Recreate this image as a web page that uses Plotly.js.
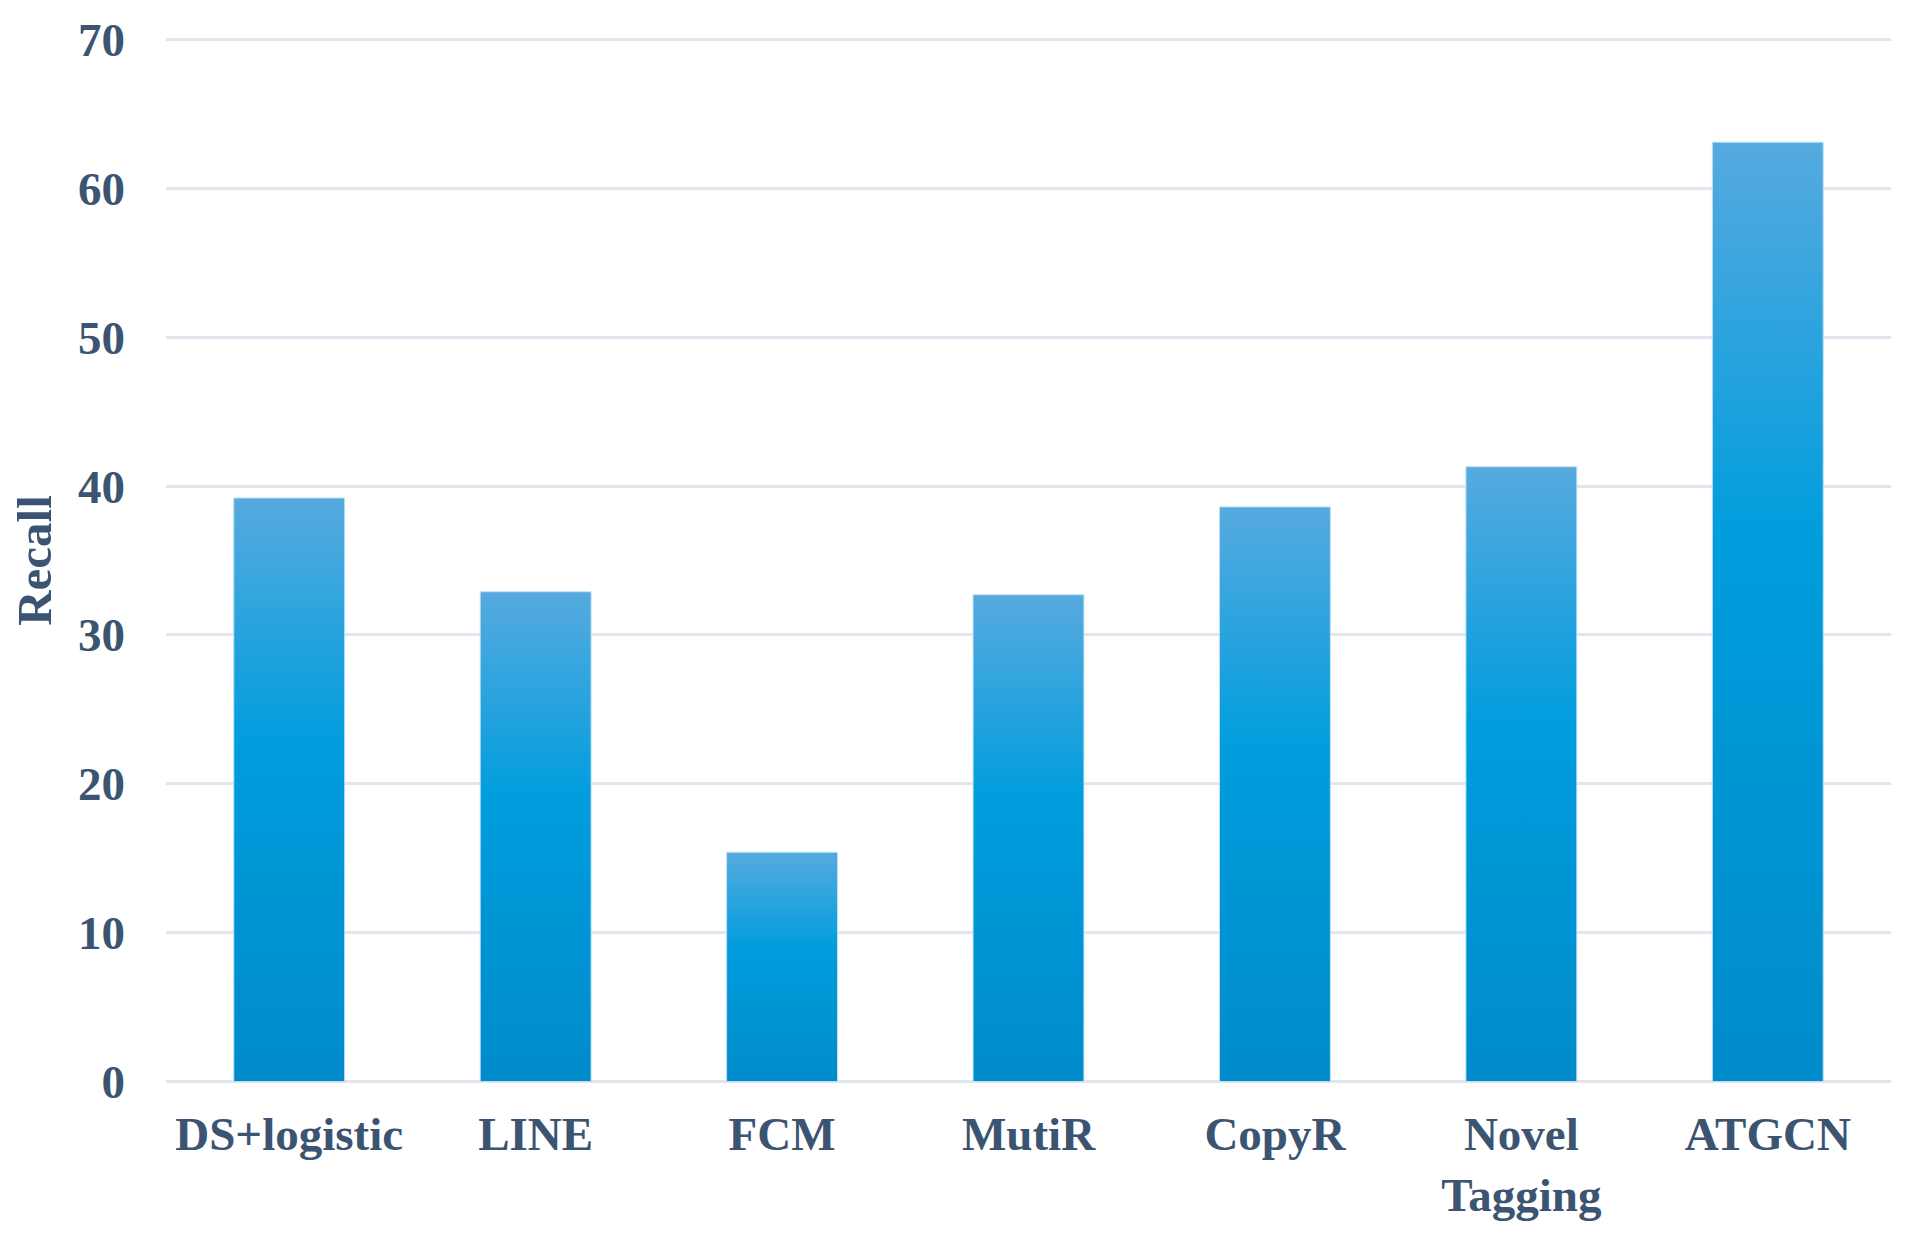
<!DOCTYPE html>
<html>
<head>
<meta charset="utf-8">
<script src="https://cdn.plot.ly/plotly-3.0.1.min.js"></script>
<style>
html,body{margin:0;padding:0;background:#fff;}
#chart{width:1906px;height:1236px;}
</style>
</head>
<body>
<div id="chart"></div>
<script>
const categories = ["DS+logistic", "LINE", "FCM", "MutiR", "CopyR", "Novel<br>Tagging", "ATGCN"];
const recall = [39.2, 32.9, 15.4, 32.7, 38.6, 41.3, 63.1];
const yTicks = [0, 10, 20, 30, 40, 50, 60, 70];

const textColor = "#3B5471";
const fontFam = "'Liberation Serif', 'Times New Roman', serif";

const trace = {
  type: "bar",
  x: categories,
  y: recall,
  marker: {color: "#1AA2E0", line: {color: "#BEE0F4", width: 1}},
  hoverinfo: "x+y"
};

const layout = {
  width: 1906,
  height: 1236,
  margin: {l: 166, r: 15, t: 35, b: 150},
  paper_bgcolor: "#ffffff",
  plot_bgcolor: "#ffffff",
  bargap: 0.55,
  showlegend: false,
  font: {family: fontFam, color: textColor},
  xaxis: {
    type: "category",
    tickfont: {family: fontFam, size: 47, color: textColor, weight: "bold"},
    showgrid: false,
    zeroline: false,
    showline: false,
    ticks: "",
    ticklabelstandoff: 16
  },
  yaxis: {
    range: [-0.3, 70.3],
    tickvals: yTicks,
    ticktext: yTicks.map(String),
    tickfont: {family: fontFam, size: 47, color: textColor, weight: "bold"},
    showgrid: true,
    gridcolor: "#E0E6ED",
    gridwidth: 3,
    zeroline: false,
    showline: false,
    ticks: "",
    ticklabelstandoff: 40,
    title: {text: "Recall", font: {family: fontFam, size: 49, color: textColor, weight: "bold"}, standoff: 10}
  }
};

Plotly.newPlot("chart", [trace], layout, {displayModeBar: false, staticPlot: true}).then(gd => {
  const svg = gd.querySelector("svg.main-svg");
  const ns = "http://www.w3.org/2000/svg";
  let defs = svg.querySelector("defs");
  if (!defs) { defs = document.createElementNS(ns, "defs"); svg.insertBefore(defs, svg.firstChild); }
  const lg = document.createElementNS(ns, "linearGradient");
  lg.setAttribute("id", "barGrad");
  lg.setAttribute("x1", "0"); lg.setAttribute("y1", "0");
  lg.setAttribute("x2", "0"); lg.setAttribute("y2", "1");
  [["0", "#56AADF"], ["0.42", "#009DDD"], ["1", "#008BCB"]].forEach(([o, c]) => {
    const s = document.createElementNS(ns, "stop");
    s.setAttribute("offset", o); s.setAttribute("stop-color", c);
    lg.appendChild(s);
  });
  defs.appendChild(lg);
  gd.querySelectorAll(".bars .point path").forEach(p => { p.style.fill = "url(#barGrad)"; p.style.fillOpacity = 1; });
});
</script>
</body>
</html>
